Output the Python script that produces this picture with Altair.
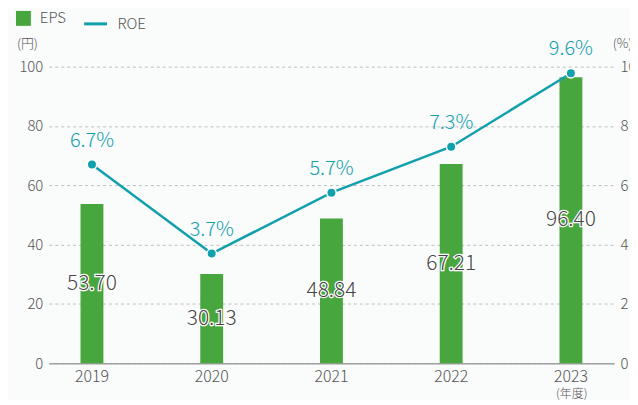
import altair as alt
import pandas as pd

years = ["2019", "2020", "2021", "2022", "2023"]
eps = [53.70, 30.13, 48.84, 67.21, 96.40]
eps_labels = ["53.70", "30.13", "48.84", "67.21", "96.40"]
roe = [6.7, 3.7, 5.75, 7.3, 9.78]
roe_labels = ["6.7%", "3.7%", "5.7%", "7.3%", "9.6%"]

GREEN = "#48a63e"
TEAL = "#12a0ad"
GRAY = "#555555"
FONT = "Noto Sans CJK JP"
W = 300

df = pd.DataFrame({
    "year": years, "eps": eps, "eps_label": eps_labels,
    "roe": roe, "roe_label": roe_labels,
    "s1": ["EPS"] * 5, "s2": ["ROE"] * 5,
})

xscale = alt.Scale(paddingInner=0.809, paddingOuter=0.265)
x_axis = alt.Axis(
    title="(年度)", titleAngle=0, titleX=525, titleY=30, titleFontSize=12,
    titleFontWeight=W, titleColor=GRAY, titleFont=FONT,
    titleAlign="center", titleBaseline="middle",
    labelAngle=0, labelFontSize=16, labelColor=GRAY, labelFont=FONT,
    labelFontWeight=W, labelPadding=5, ticks=False, domain=True,
    domainColor="#a0a0a0", domainWidth=1.5, grid=False,
)
X = alt.X("year:N", scale=xscale, axis=x_axis)

yl_scale = alt.Scale(domain=[0, 100], nice=False)
yl_axis = alt.Axis(
    values=[0, 20, 40, 60, 80, 100], title="(円)", titleAngle=0,
    titleX=-22, titleY=-23, titleAlign="center", titleBaseline="middle",
    titleFontSize=13, titleFontWeight=W, titleColor=GRAY, titleFont=FONT,
    labelFontSize=15, labelColor=GRAY, labelFont=FONT, labelFontWeight=W,
    labelPadding=6, ticks=False, domain=False, grid=True, gridColor="#bdbdbd",
    gridDash=[3, 3], gridWidth=1,
)

bars = alt.Chart(df).mark_bar(color=GREEN).encode(
    x=X,
    y=alt.Y("eps:Q", scale=yl_scale, axis=yl_axis),
    fill=alt.Fill("s1:N", scale=alt.Scale(domain=["EPS"], range=[GREEN]),
                  legend=alt.Legend(orient="none", legendX=-33, legendY=-56,
                                    title=None, symbolType="square",
                                    symbolSize=225, symbolStrokeWidth=0,
                                    labelFontSize=15, labelColor=GRAY,
                                    labelFont=FONT, labelFontWeight=W,
                                    labelOffset=9, padding=0)),
)

base_lab = alt.Chart(df).transform_calculate(eps="datum.eps / 2")
halo = base_lab.mark_text(fontSize=21, font=FONT, fontWeight=W, color="white",
                          stroke="white", strokeWidth=2.5,
                          baseline="middle").encode(
    x=X, y=alt.Y("eps:Q", scale=yl_scale, axis=yl_axis), text="eps_label:N")
lab = base_lab.mark_text(fontSize=21, font=FONT, fontWeight=W, color="#444444",
                         baseline="middle").encode(
    x=X, y=alt.Y("eps:Q", scale=yl_scale, axis=yl_axis), text="eps_label:N")

left = alt.layer(bars, halo, lab)

yr_scale = alt.Scale(domain=[0, 10], nice=False)
yr_axis = alt.Axis(
    orient="right", values=[0, 2, 4, 6, 8, 10], title="(%)", titleAngle=0,
    titleX=8, titleY=-23, titleAlign="center", titleBaseline="middle",
    titleFontSize=13, titleFontWeight=W, titleColor=GRAY, titleFont=FONT,
    labelFontSize=15, labelColor=GRAY, labelFont=FONT, labelFontWeight=W,
    labelPadding=6, ticks=False, domain=False, grid=False,
)
YR = alt.Y("roe:Q", scale=yr_scale, axis=yr_axis)

line = alt.Chart(df).mark_line(strokeWidth=2.5).encode(
    x=X, y=YR,
    stroke=alt.Stroke("s2:N", scale=alt.Scale(domain=["ROE"], range=[TEAL]),
                      legend=alt.Legend(orient="none", legendX=34, legendY=-56,
                                        title=None, symbolType="stroke",
                                        symbolSize=529, symbolStrokeWidth=3,
                                        labelFontSize=15, labelColor=GRAY,
                                        labelFont=FONT, labelFontWeight=W,
                                        labelOffset=9, padding=0)),
)
pts = alt.Chart(df).mark_point(filled=True, size=90, color=TEAL, opacity=1,
                               stroke="white", strokeWidth=1.5).encode(
    x=X, y=YR)
roe_text = alt.Chart(df).mark_text(fontSize=20, font=FONT, fontWeight=W,
                                   color=TEAL, baseline="middle",
                                   dy=-24).encode(
    x=X, y=YR, text="roe_label:N")

right = alt.layer(line, pts, roe_text)

chart = alt.layer(left, right).resolve_scale(y="independent").properties(
    width=568, height=298,
    padding={"left": 41, "top": 58, "right": 16, "bottom": 36},
    autosize=alt.AutoSizeParams(type="none"),
    background="#fafbfb",
).configure_view(stroke=None)

chart.save("out.html", embed_options={"renderer": "svg", "actions": False})
